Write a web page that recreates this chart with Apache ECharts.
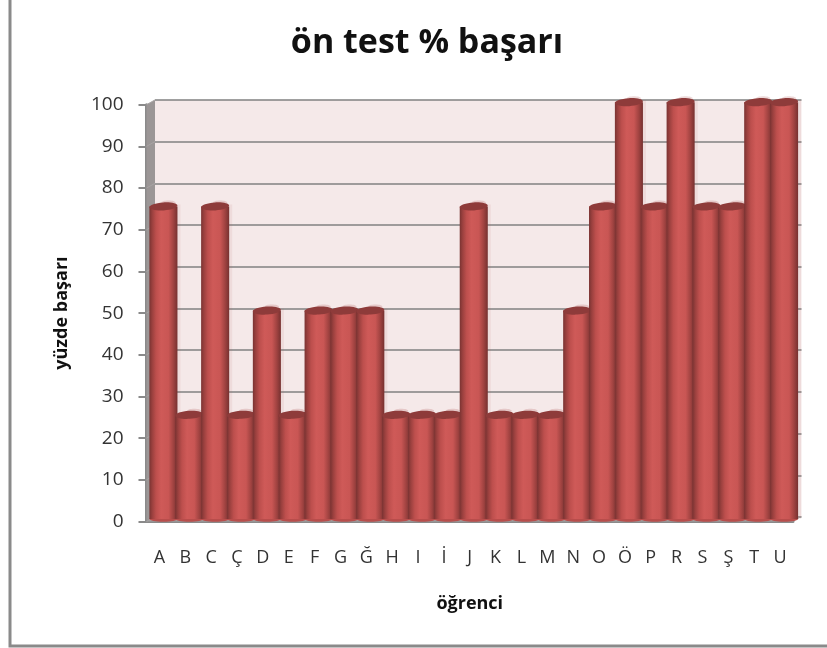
<!DOCTYPE html>
<html><head><meta charset="utf-8">
<style>html,body{margin:0;padding:0;background:#fff}#c{width:827px;height:648px}</style>
<script src="https://cdn.jsdelivr.net/npm/echarts@6/dist/echarts.min.js"></script>
</head><body><div id="c"></div>
<script>
const titleText = 'ön test % başarı';
const xName = 'öğrenci';
const yName = 'yüzde başarı';
const categories = ['A','B','C','Ç','D','E','F','G','Ğ','H','I','İ','J','K','L','M','N','O','Ö','P','R','S','Ş','T','U'];
const values = [75,25,75,25,50,25,50,50,50,25,25,25,75,25,25,25,50,75,100,75,100,75,75,100,100];
const yTicks = [0,10,20,30,40,50,60,70,80,90,100];

const FONT = '"Open Sans", "Noto Sans", sans-serif';
const GRAY = '#8a8a8a';
const chart = echarts.init(document.getElementById('c'), null, {renderer:'canvas'});

const bodyFill = new echarts.graphic.LinearGradient(0,0,1,0,[
  {offset:0,color:'#7a3332'},{offset:0.1,color:'#9a403e'},{offset:0.24,color:'#bd4f4d'},
  {offset:0.42,color:'#cf5a58'},{offset:0.68,color:'#c95654'},{offset:0.85,color:'#a14341'},{offset:1,color:'#763130'}
]);

function renderBar(params, api){
  const cat = api.value(0), val = api.value(1);
  const top = api.coord([cat,val]), base = api.coord([cat,0]);
  const step = api.size([1,0])[0];
  const cx = top[0] + 4, w = step + 2.2, rx = w/2;
  const ty = top[1] - 2.5, by = base[1] - 2.5;
  return {type:'group', children:[
    {type:'rect', shape:{x:cx-rx+2, y:ty-2, width:w+1, height:by-ty+2}, style:{fill:'rgba(175,80,80,0.09)'}},
    {type:'ellipse', shape:{cx:cx+5, cy:ty-4, rx:rx-7, ry:2}, style:{fill:'rgba(175,80,80,0.22)'}},
    {type:'ellipse', shape:{cx:cx, cy:by, rx:rx, ry:2.8}, style:{fill:'#b84d4b'}},
    {type:'rect', shape:{x:cx-rx, y:ty, width:w, height:by-ty}, style:{fill:bodyFill}},
    {type:'ellipse', shape:{cx:cx, cy:ty, rx:rx, ry:4}, rotation:0.06, originX:cx, originY:ty, style:{fill:'#8e3b3a'}}
  ]};
}

function renderWall(params, api){
  const dx = 8.5, dy = -4.8;
  const a = api.coord([0,100]), b = api.coord([0,0]);
  const x0 = params.coordSys.x;
  const kids = [
    {type:'polygon', shape:{points:[[x0,a[1]],[x0+dx,a[1]+dy],[x0+dx,b[1]+dy],[x0,b[1]]]}, style:{fill:'#9b9696'}}
  ];
  yTicks.forEach(t=>{
    const p = api.coord([0,t]);
    kids.push({type:'line', shape:{x1:x0,y1:p[1],x2:x0+dx,y2:p[1]+dy}, style:{stroke:'#a8a4a4',lineWidth:1}});
  });
  const x1 = x0 + params.coordSys.width;
  kids.push({type:'polygon', shape:{points:[[x0,b[1]],[x0+dx,b[1]+dy],[x1+dx,b[1]+dy],[x1,b[1]]]}, style:{fill:'#a3a0a0'}});
  return {type:'group', children:kids};
}

chart.setOption({
  animation:false,
  backgroundColor:'#fff',
  title:{text:titleText,left:422,top:21,textAlign:'center',
    textStyle:{fontFamily:FONT,fontSize:34,fontWeight:'bold',color:'#111'}},
  grid:[
    {left:146.5,right:34,top:104.7,bottom:126.5,containLabel:false},
    {left:155,right:25.5,top:100,bottom:131,show:true,backgroundColor:'#f5e9e9',borderWidth:0}
  ],
  xAxis:[
    {gridIndex:0,type:'category',data:categories,boundaryGap:true,z:1,
     axisLine:{show:true,lineStyle:{color:GRAY,width:3}},axisTick:{show:false},
     axisLabel:{interval:0,margin:27,fontFamily:FONT,fontSize:18,color:'#333'},
     name:xName,nameLocation:'middle',nameGap:73,
     nameTextStyle:{fontFamily:FONT,fontSize:18,fontWeight:'bold',color:'#111'}},
    {gridIndex:1,type:'category',data:categories,show:false}
  ],
  yAxis:[
    {gridIndex:0,type:'value',min:0,max:100,interval:10,z:1,
     axisLine:{show:true,lineStyle:{color:GRAY,width:3}},
     axisTick:{show:true,length:8,lineStyle:{color:GRAY,width:2}},
     splitLine:{show:false},
     axisLabel:{margin:23,fontFamily:FONT,fontSize:19,color:'#333'},
     name:yName,nameLocation:'middle',nameGap:76,nameRotate:90,
     nameTextStyle:{fontFamily:FONT,fontSize:18,fontWeight:'bold',color:'#111'}},
    {gridIndex:1,type:'value',min:0,max:100,interval:10,
     axisLine:{show:false},axisTick:{show:false},axisLabel:{show:false},
     splitLine:{show:true,lineStyle:{color:'#808080',width:1.6}}}
  ],
  graphic:[
    {type:'rect',shape:{x:10,y:-3,width:830,height:649},style:{fill:'none',stroke:GRAY,lineWidth:3},silent:true,z:-10}
  ],
  series:[
    {type:'custom',xAxisIndex:0,yAxisIndex:0,coordinateSystem:'cartesian2d',clip:false,z:3,
     renderItem:renderWall,data:[[0,0]],silent:true},
    {type:'custom',xAxisIndex:0,yAxisIndex:0,coordinateSystem:'cartesian2d',clip:false,z:5,
     renderItem:renderBar,encode:{x:0,y:1},
     data:categories.map((c,i)=>[i,values[i]]),silent:true}
  ]
});
</script></body></html>
